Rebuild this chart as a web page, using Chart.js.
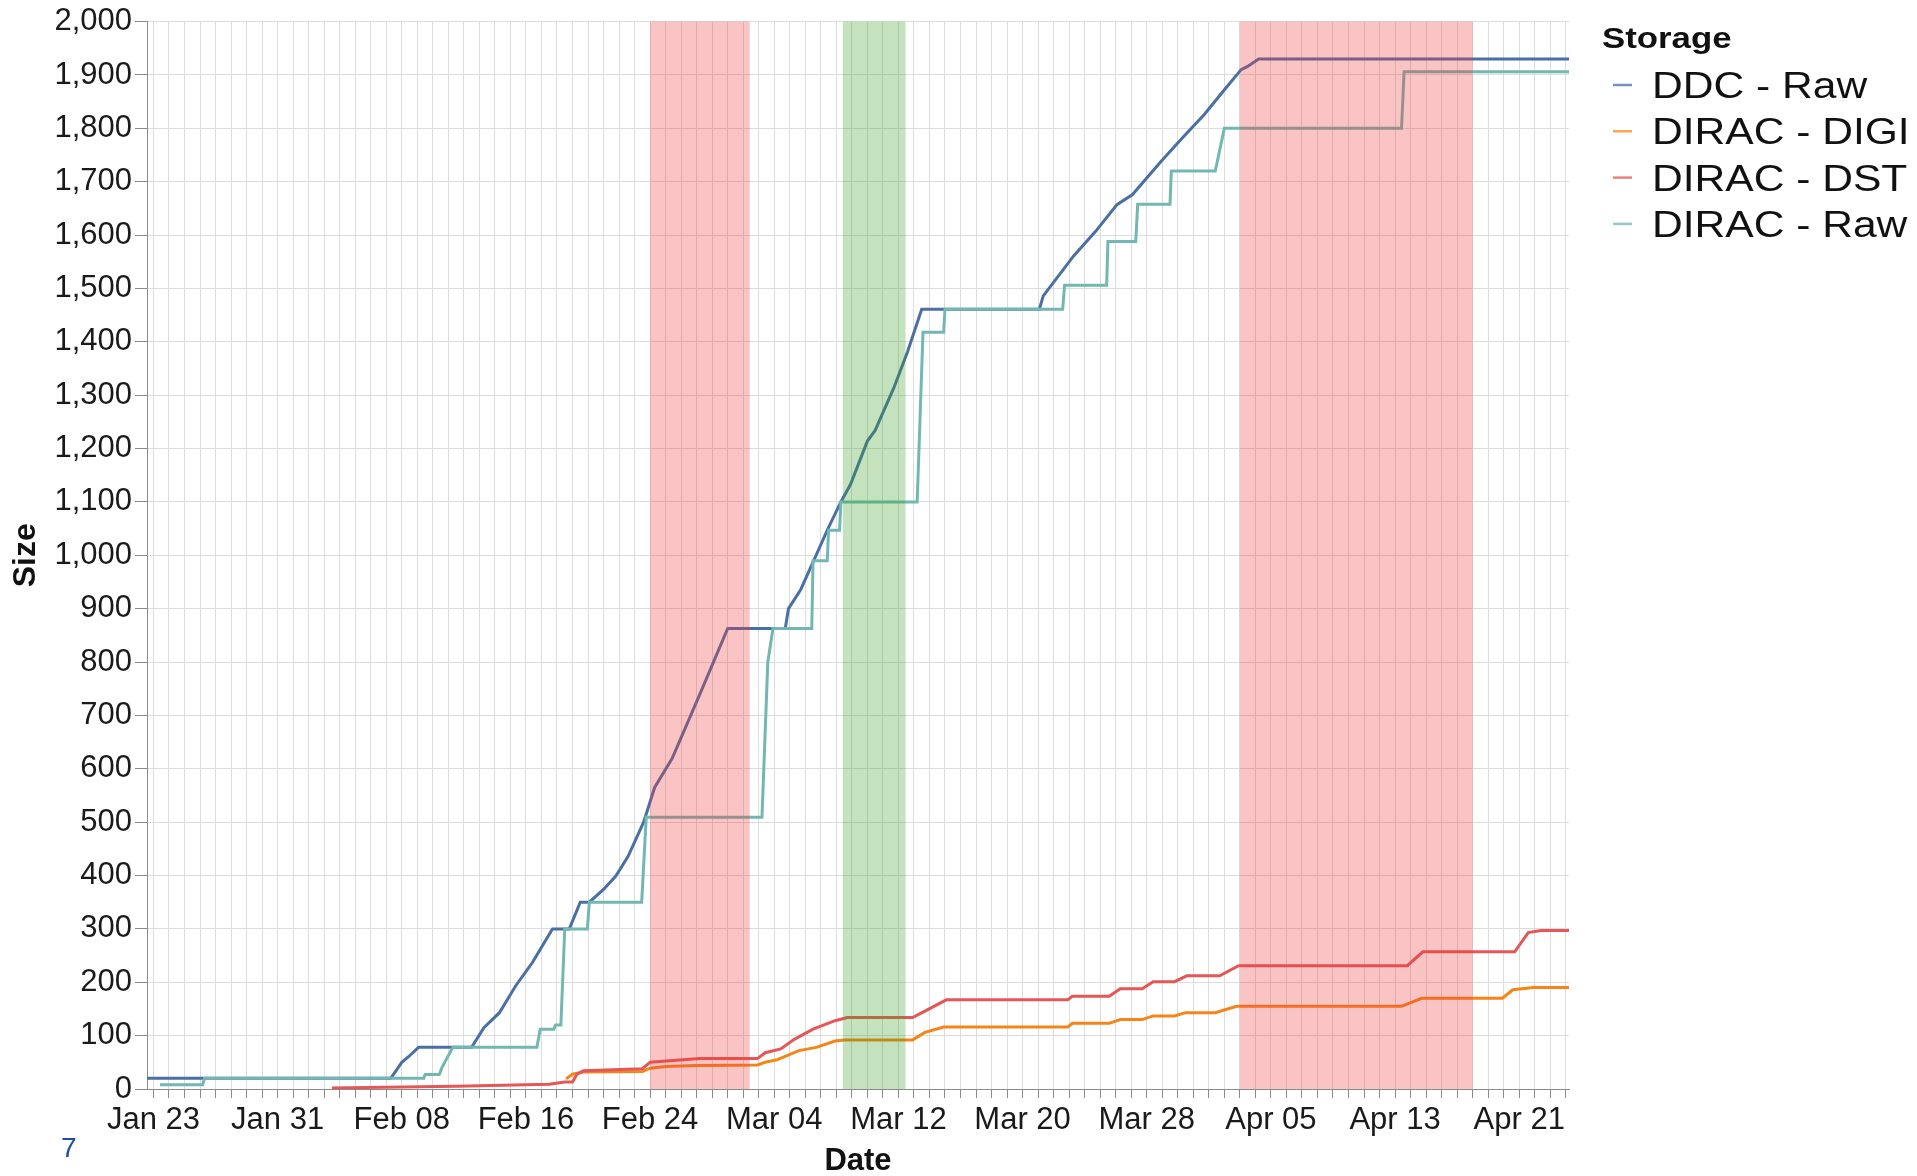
<!DOCTYPE html>
<html>
<head>
<meta charset="utf-8">
<title>Storage size</title>
<script src="https://cdn.jsdelivr.net/npm/chart.js@4.4.0/dist/chart.umd.min.js"></script>
<style>
  html, body { margin: 0; padding: 0; background: #fff; }
  #wrap { position: relative; width: 1917px; height: 1176px; }
  #page { position: absolute; left: 61px; top: 1134px; font: 28px 'Liberation Sans', Arial, sans-serif; line-height: 28px; color: #1f4e9a; }
</style>
</head>
<body>
<div id="wrap">
  <canvas id="storage-chart"></canvas>
  <div id="page">7</div>
</div>
<script>
const year = 2023;
const monthNames = ['Jan', 'Feb', 'Mar', 'Apr', 'May', 'Jun', 'Jul', 'Aug', 'Sep', 'Oct', 'Nov', 'Dec'];

const seriesNames = ['DDC - Raw', 'DIRAC - DIGI', 'DIRAC - DST', 'DIRAC - Raw'];
const seriesColors = ['#4a6fa5', '#f58518', '#e45756', '#72b7b2'];

// times are 'MM-DD HH'
const ddcRawTimes = ['01-22 14', '02-07 07', '02-08 00', '02-08 10', '02-09 02', '02-12 12', '02-13 07', '02-14 07',
  '02-15 08', '02-16 10', '02-17 17', '02-18 19', '02-19 12', '02-20 02', '02-21 00', '02-21 19', '02-22 14',
  '02-23 14', '02-24 07', '02-25 10', '02-27 05', '03-01 00', '03-04 17', '03-04 22', '03-05 17', '03-06 12',
  '03-07 10', '03-08 07', '03-08 22', '03-10 00', '03-10 12', '03-11 17', '03-12 14', '03-13 12', '03-21 02',
  '03-21 08', '03-23 07', '03-24 17', '03-26 02', '03-27 02', '03-28 22', '03-30 07', '03-31 17', '04-02 02',
  '04-03 02', '04-03 12', '04-04 05', '04-24 05'];
const ddcRawSizes = [20, 20, 50, 60, 78, 78, 115, 143,
  193, 237, 300, 300, 350, 350, 374, 399, 436,
  500, 565, 619, 740, 863, 863, 900, 936, 987,
  1047, 1100, 1133, 1214, 1234, 1314, 1381, 1461, 1461,
  1486, 1561, 1607, 1657, 1676, 1738, 1782, 1826, 1875,
  1910, 1916, 1930, 1930];

const digiTimes = ['02-18 14', '02-19 00', '02-19 17', '02-23 12', '02-24 00', '02-25 00', '02-27 00', '03-02 22',
  '03-03 10', '03-04 05', '03-05 14', '03-06 17', '03-07 22', '03-08 12', '03-12 22', '03-13 17', '03-14 22',
  '03-22 22', '03-23 05', '03-25 14', '03-26 07', '03-27 17', '03-28 10', '03-29 19', '03-30 12', '04-01 10',
  '04-02 19', '04-13 10', '04-14 17', '04-19 22', '04-20 14', '04-21 22', '04-24 05'];
const digiSizes = [19, 28, 32, 33, 39, 42, 44, 45,
  50, 55, 72, 78, 90, 92, 92, 106, 116,
  116, 123, 123, 130, 130, 137, 137, 143, 143,
  155, 155, 170, 170, 186, 190, 190];

const dstTimes = ['02-03 12', '02-11 12', '02-17 12', '02-18 12', '02-19 00', '02-19 07', '02-19 17', '02-23 12',
  '02-24 00', '02-27 05', '03-02 22', '03-03 10', '03-04 10', '03-05 07', '03-06 12', '03-07 22', '03-08 17',
  '03-12 22', '03-13 17', '03-15 02', '03-22 22', '03-23 05', '03-25 14', '03-26 07', '03-27 17', '03-28 10',
  '03-29 19', '03-30 14', '04-01 17', '04-02 22', '04-13 19', '04-14 19', '04-20 17', '04-21 14', '04-22 10',
  '04-24 05'];
const dstSizes = [2, 5, 9, 13, 13, 28, 34, 38,
  50, 57, 57, 68, 75, 93, 112, 128, 134,
  134, 146, 167, 167, 174, 174, 188, 188, 201,
  201, 212, 212, 231, 231, 257, 257, 293, 297,
  297];

const diracRawTimes = ['01-23 10', '01-26 04', '01-26 07', '02-09 10', '02-09 12', '02-10 10', '02-10 14', '02-11 07',
  '02-16 17', '02-16 22', '02-17 19', '02-17 22', '02-18 06', '02-18 12', '02-19 23', '02-20 02', '02-23 11',
  '02-23 18', '03-03 05', '03-03 14', '03-03 22', '03-06 10', '03-06 12', '03-07 10', '03-07 12', '03-08 05',
  '03-08 07', '03-13 05', '03-13 14', '03-14 22', '03-15 00', '03-22 14', '03-22 17', '03-25 10', '03-25 12',
  '03-27 07', '03-27 10', '03-29 12', '03-29 14', '04-01 10', '04-02 00', '04-13 10', '04-13 14', '04-24 05'];
const diracRawSizes = [8, 8, 20, 20, 27, 27, 40, 78,
  78, 112, 112, 120, 120, 300, 300, 350, 350,
  509, 509, 800, 863, 863, 990, 990, 1047, 1047,
  1100, 1100, 1418, 1418, 1461, 1461, 1506, 1506, 1588,
  1588, 1658, 1658, 1720, 1720, 1800, 1800, 1906, 1906];

const dateLabels = ['Jan 23', 'Jan 31', 'Feb 08', 'Feb 16', 'Feb 24', 'Mar 04', 'Mar 12', 'Mar 20', 'Mar 28',
  'Apr 05', 'Apr 13', 'Apr 21'];
const sizeTicks = [0, 100, 200, 300, 400, 500, 600, 700, 800, 900, 1000, 1100, 1200, 1300, 1400, 1500, 1600,
  1700, 1800, 1900, 2000];

const bandStarts = ['02-24 00', '03-08 10', '04-03 00'];
const bandEnds = ['03-02 10', '03-12 11', '04-18 00'];
const bandColors = ['rgba(240, 60, 60, 0.3)', 'rgba(60, 160, 40, 0.3)', 'rgba(240, 60, 60, 0.3)'];

const t0 = Date.UTC(year, 0, 23);
function toDay(s) {
  const [md, hh] = s.split(' ');
  const [m, d] = md.split('-').map(Number);
  return (Date.UTC(year, m - 1, d, Number(hh)) - t0) / 864e5;
}
function labelDay(l) {
  const [mon, d] = l.split(' ');
  return (Date.UTC(year, monthNames.indexOf(mon), Number(d)) - t0) / 864e5;
}
const labelByDay = {};
dateLabels.forEach(l => { labelByDay[labelDay(l)] = l; });

function points(times, sizes) {
  return times.map((t, i) => ({ x: toDay(t), y: sizes[i] }));
}

const seriesData = [
  points(ddcRawTimes, ddcRawSizes),
  points(digiTimes, digiSizes),
  points(dstTimes, dstSizes),
  points(diracRawTimes, diracRawSizes)
];
const allDays = seriesData.flat().map(p => p.x);
const xMin = Math.min(...allDays);
const xMax = Math.max(...allDays);

const font = "'Liberation Sans', Arial, sans-serif";
Chart.defaults.font.family = font;
Chart.defaults.color = '#1a1a1a';

const bandsPlugin = {
  id: 'bands',
  afterDatasetsDraw(chart) {
    const { ctx, chartArea: a, scales: { x } } = chart;
    ctx.save();
    bandStarts.forEach((s, i) => {
      const x0 = x.getPixelForValue(toDay(s));
      const x1 = x.getPixelForValue(toDay(bandEnds[i]));
      ctx.fillStyle = bandColors[i];
      ctx.fillRect(x0, a.top, x1 - x0, a.bottom - a.top);
    });
    ctx.restore();
  }
};

// legend drawn at the right, text a bit wide like the original
function wideText(ctx, text, x, y, sx) {
  ctx.save();
  ctx.translate(x, y);
  ctx.scale(sx, 1);
  ctx.fillText(text, 0, 0);
  ctx.restore();
}

const legendPlugin = {
  id: 'sideLegend',
  afterDraw(chart) {
    const ctx = chart.ctx;
    ctx.save();
    ctx.textBaseline = 'alphabetic';
    ctx.textAlign = 'left';
    ctx.fillStyle = '#111';
    ctx.font = 'bold 29px ' + font;
    wideText(ctx, 'Storage', 1602, 48, 1.2);
    ctx.font = '37px ' + font;
    chart.data.datasets.forEach((ds, i) => {
      const base = 98 + i * 46.3;
      ctx.globalAlpha = 0.75;
      ctx.strokeStyle = ds.borderColor;
      ctx.lineWidth = 2.5;
      ctx.beginPath();
      ctx.moveTo(1613, base - 13);
      ctx.lineTo(1632, base - 13);
      ctx.stroke();
      ctx.globalAlpha = 1;
      ctx.fillStyle = '#111';
      wideText(ctx, ds.label, 1652, base, 1.15);
    });
    ctx.restore();
  }
};

const ctx = document.getElementById('storage-chart').getContext('2d');
new Chart(ctx, {
  type: 'line',
  data: {
    datasets: seriesNames.map((name, i) => ({
      label: name,
      data: seriesData[i],
      borderColor: seriesColors[i],
      backgroundColor: seriesColors[i],
      borderWidth: 3,
      pointRadius: 0,
      tension: 0,
      order: seriesNames.length - i
    }))
  },
  options: {
    responsive: true,
    maintainAspectRatio: false,
    animation: false,
    layout: { padding: { top: 21, right: 348, bottom: 0, left: 0 } },
    plugins: {
      legend: { display: false },
      tooltip: { enabled: false }
    },
    scales: {
      x: {
        type: 'linear',
        min: xMin,
        max: xMax,
        afterBuildTicks: s => {
          const ticks = [];
          for (let d = Math.ceil(xMin); d <= Math.floor(xMax); d++) ticks.push({ value: d });
          s.ticks = ticks;
        },
        afterFit: s => { s.height = 87; },
        ticks: {
          autoSkip: false,
          maxRotation: 0,
          padding: 4,
          font: { size: 31 },
          color: '#1a1a1a',
          callback: v => labelByDay[v] || ''
        },
        grid: { color: '#dcdcdc', lineWidth: 1, tickLength: 9, tickColor: '#8a8a8a' },
        border: { color: '#8a8a8a', width: 1 },
        title: {
          display: true,
          text: 'Date',
          font: { size: 31, weight: 'bold' },
          color: '#111',
          padding: { top: 0, bottom: -4 }
        }
      },
      y: {
        min: sizeTicks[0],
        max: sizeTicks[sizeTicks.length - 1],
        afterBuildTicks: s => { s.ticks = sizeTicks.map(v => ({ value: v })); },
        afterFit: s => { s.width = 147; },
        ticks: {
          autoSkip: false,
          padding: 3,
          font: { size: 31 },
          color: '#1a1a1a',
          callback: v => v.toLocaleString('en-US')
        },
        grid: { color: '#dcdcdc', lineWidth: 1, tickLength: 12, tickColor: '#8a8a8a' },
        border: { color: '#8a8a8a', width: 1 },
        title: {
          display: true,
          text: 'Size',
          font: { size: 32, weight: 'bold' },
          color: '#111',
          padding: { top: 7, bottom: 0 }
        }
      }
    }
  },
  plugins: [bandsPlugin, legendPlugin]
});
</script>
</body>
</html>
